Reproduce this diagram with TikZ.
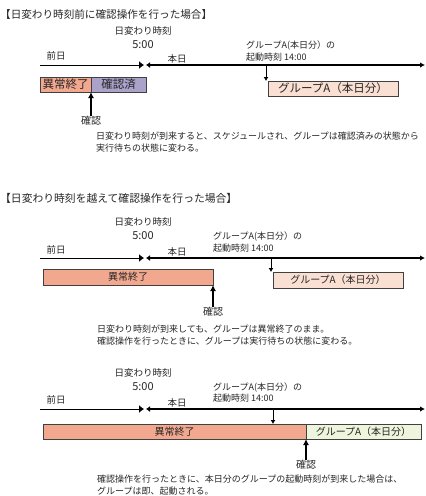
\documentclass[tikz,border=0pt]{standalone}
\usepackage{fontspec}
\setmainfont{Noto Sans CJK JP}
\usetikzlibrary{positioning,arrows.meta}

\definecolor{errfill}{HTML}{F2A88F}
\definecolor{donefill}{HTML}{ABA2CA}
\definecolor{grpfill}{HTML}{FADFD3}
\definecolor{grpgreen}{HTML}{EDF5DC}

\begin{document}
\begin{tikzpicture}[x=1pt, y=-1pt, text=black!85,
    ttl/.style={anchor=west, inner sep=0pt, font=\fontsize{10.6}{13}\selectfont},
    lbl/.style={inner sep=0pt, font=\fontsize{9.5}{11}\selectfont},
    grplbl/.style={anchor=west, inner sep=0pt, align=left, font=\fontsize{9}{11.5}\selectfont},
    note/.style={anchor=west, inner sep=0pt, align=left, font=\fontsize{9}{12}\selectfont},
    bar/.style={draw=black!75, line width=0.8pt, minimum height=15pt, inner sep=0pt, outer sep=0pt, anchor=north west, font=\fontsize{10}{12}\selectfont},
    bigbar/.style={bar, font=\fontsize{11.5}{13}\selectfont},
    prevline/.style={line width=0.8pt, -{Latex[length=5pt,width=8pt]}},
    todayline/.style={line width=1.6pt, {Latex[length=4pt,width=6pt]}-{Latex[length=5pt,width=5.5pt]}},
    chkarrow/.style={line width=1.2pt, -{Latex[length=6pt,width=6pt]}},
    startarrow/.style={line width=0.8pt, -{Latex[length=4pt,width=5pt]}}]
    \useasboundingbox (0,0) rectangle (426,496);

    % Case 1: confirmed before the day change
    \node[ttl] (title1) at (0,14) {【日変わり時刻前に確認操作を行った場合】};
    \node[lbl] (chg1) at (143,31) {日変わり時刻};
    \node[lbl, font=\fontsize{11}{12}\selectfont, below=5pt of chg1] (five1) {5:00};
    \node[lbl] (prevday1) at (56,56) {前日};
    \node[lbl] (today1) at (177,59) {本日};
    \coordinate (prev1) at (40,65);
    \coordinate (chgL1) at (144,65);
    \coordinate (chgR1) at (146,65);
    \coordinate (end1) at (425,65);
    \draw[prevline] (prev1) -- (chgL1);
    \draw[todayline] (chgR1) -- (end1);

    \node[bigbar, fill=errfill, minimum width=51pt] (err1) at (40,77) {異常終了};
    \node[bigbar, fill=donefill, minimum width=55pt, right=0pt of err1] (done1) {確認済};
    \node[lbl, font=\fontsize{10}{11}\selectfont] (chk1) at (91,121) {確認};
    \draw[chkarrow] (chk1.north) -- (err1.south east);

    \node[grplbl] (grplbl1) at (246,51) {グループA(本日分）の\\起動時刻 14:00};
    \node[bigbar, fill=grpfill, minimum width=130pt] (grp1) at (268,81) {グループA（本日分）};
    \coordinate (start1) at (266,65);
    \draw[startarrow] (start1) -- (start1 |- grp1.north);

    \node[note] (note1) at (96,142) {日変わり時刻が到来すると、スケジュールされ、グループは確認済みの状態から\\実行待ちの状態に変わる。};

    % Case 2: confirmed after the day change
    \node[ttl, font=\fontsize{10.8}{13}\selectfont] (title2) at (0,198) {【日変わり時刻を越えて確認操作を行った場合】};
    \node[lbl] (chg2) at (143,222) {日変わり時刻};
    \node[lbl, font=\fontsize{11}{12}\selectfont, below=5pt of chg2] (five2) {5:00};
    \node[lbl] (prevday2) at (56,250) {前日};
    \node[lbl] (today2) at (177,252) {本日};
    \coordinate (prev2) at (40,258);
    \coordinate (chgL2) at (144,258);
    \coordinate (chgR2) at (146,258);
    \coordinate (end2) at (425,258);
    \draw[prevline] (prev2) -- (chgL2);
    \draw[todayline] (chgR2) -- (end2);

    \node[bar, fill=errfill, minimum width=170pt, minimum height=16pt] (err2) at (43,269) {異常終了};
    \node[lbl, font=\fontsize{10}{11}\selectfont] (chk2) at (213,312) {確認};
    \draw[chkarrow] (chk2.north) -- (err2.south east);

    \node[grplbl] (grplbl2) at (213,242) {グループA(本日分）の\\起動時刻 14:00};
    \node[bar, fill=grpfill, minimum width=130pt, minimum height=16pt] (grp2) at (273,272) {グループA（本日分）};
    \coordinate (start2) at (271,258);
    \draw[startarrow] (start2) -- (start2 |- grp2.north);

    \node[note] (note2) at (97,335) {日変わり時刻が到来しても、グループは異常終了のまま。\\確認操作を行ったときに、グループは実行待ちの状態に変わる。};

    % Case 3: confirmed after the start time of group A
    \node[lbl] (chg3) at (143,373) {日変わり時刻};
    \node[lbl, font=\fontsize{11}{12}\selectfont, below=5pt of chg3] (five3) {5:00};
    \node[lbl] (prevday3) at (56,400) {前日};
    \node[lbl] (today3) at (177,403) {本日};
    \coordinate (prev3) at (40,409);
    \coordinate (chgL3) at (144,409);
    \coordinate (chgR3) at (146,409);
    \coordinate (end3) at (425,409);
    \draw[prevline] (prev3) -- (chgL3);
    \draw[todayline] (chgR3) -- (end3);

    \node[bar, fill=errfill, minimum width=263pt] (err3) at (43,424) {異常終了};
    \node[bar, fill=grpgreen, minimum width=115pt, right=0pt of err3] (grp3) {グループA（本日分）};
    \node[lbl, font=\fontsize{10}{11}\selectfont] (chk3) at (306,465) {確認};
    \draw[chkarrow] (chk3.north) -- (err3.south east);

    \node[grplbl] (grplbl3) at (213,392.5) {グループA(本日分）の\\起動時刻 14:00};
    \coordinate (start3) at (273,409);
    \draw[startarrow] (start3) -- (start3 |- err3.north);

    \node[note] (note3) at (97,485) {確認操作を行ったときに、本日分のグループの起動時刻が到来した場合は、\\グループは即、起動される。};
\end{tikzpicture}
\end{document}
